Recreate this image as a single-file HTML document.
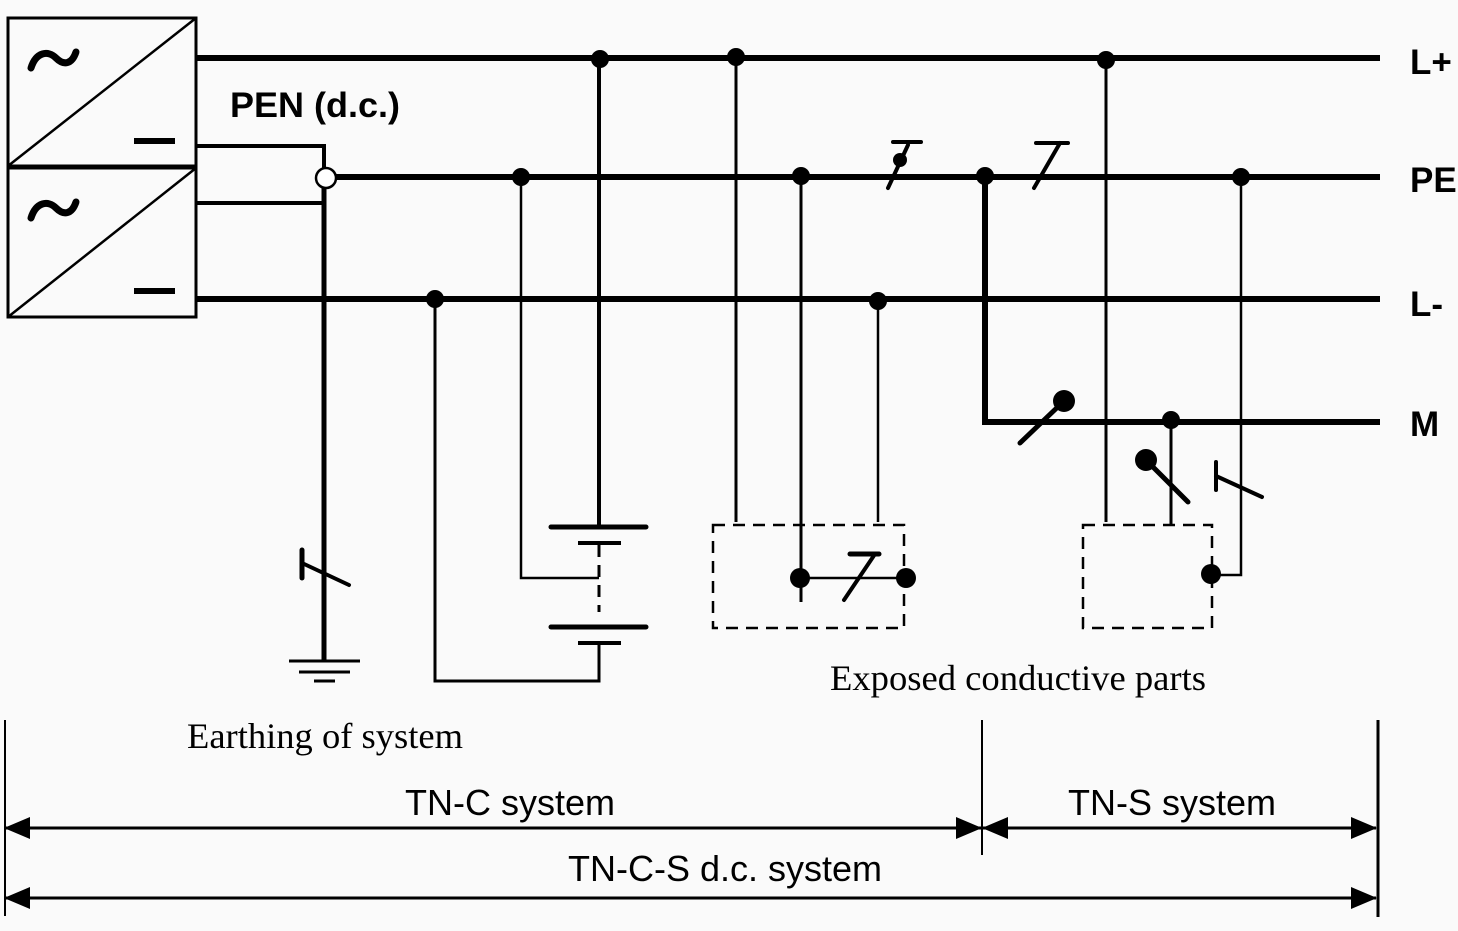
<!DOCTYPE html>
<html><head><style>html,body{margin:0;padding:0;background:#fafafa}svg{display:block}</style></head><body>
<svg width="1458" height="931" viewBox="0 0 1458 931" xmlns="http://www.w3.org/2000/svg">
<defs>
<marker id="a" markerWidth="26" markerHeight="22" refX="25" refY="11" orient="auto-start-reverse" markerUnits="userSpaceOnUse"><path d="M0,0 L26,11 L0,22 Z" fill="#000"/></marker>
</defs>
<g fill="none" stroke="#000">
<rect x="8" y="18" width="188" height="148" stroke-width="3"/>
<rect x="8" y="168" width="188" height="149" stroke-width="3"/>
<line x1="8" y1="166" x2="196" y2="18" stroke-width="2.5"/>
<line x1="8" y1="317" x2="196" y2="168" stroke-width="2.5"/>
<line x1="134" y1="141" x2="175" y2="141" stroke-width="6"/>
<line x1="134" y1="291" x2="175" y2="291" stroke-width="6"/>
<path d="M31,68 C36,52 48,50 56,58 C64,66 72,64 76,52" stroke-width="7" stroke-linecap="round"/>
<path d="M31,218 C36,202 48,200 56,208 C64,216 72,214 76,202" stroke-width="7" stroke-linecap="round"/>
<line x1="196" y1="58" x2="1380" y2="58" stroke-width="6"/>
<line x1="336" y1="177" x2="1380" y2="177" stroke-width="6"/>
<line x1="196" y1="299" x2="1380" y2="299" stroke-width="6"/>
<polyline points="985,177 985,422 1380,422" stroke-width="6"/>
<polyline points="196,146 324,146 324,168" stroke-width="4"/>
<line x1="196" y1="203" x2="324" y2="203" stroke-width="4"/>
<line x1="324" y1="188" x2="324" y2="661" stroke-width="5"/>
<line x1="302" y1="550" x2="302" y2="578" stroke-width="5" stroke-linecap="round"/>
<line x1="302" y1="563" x2="349" y2="585" stroke-width="4" stroke-linecap="round"/>
<line x1="289" y1="661" x2="360" y2="661" stroke-width="3"/>
<line x1="299" y1="672" x2="350" y2="672" stroke-width="3"/>
<line x1="314" y1="681" x2="335" y2="681" stroke-width="3"/>
<line x1="599" y1="58" x2="599" y2="527" stroke-width="4"/>
<line x1="551" y1="527" x2="646" y2="527" stroke-width="5" stroke-linecap="round"/>
<line x1="578" y1="543" x2="621" y2="543" stroke-width="4"/>
<line x1="599" y1="545" x2="599" y2="612" stroke-width="3" stroke-dasharray="12,8"/>
<line x1="551" y1="627" x2="646" y2="627" stroke-width="5" stroke-linecap="round"/>
<line x1="578" y1="643" x2="621" y2="643" stroke-width="4"/>
<polyline points="599,643 599,681 435,681 435,299" stroke-width="3"/>
<polyline points="521,177 521,578 599,578" stroke-width="2.5"/>
<line x1="736" y1="58" x2="736" y2="522" stroke-width="3"/>
<line x1="801" y1="177" x2="801" y2="602" stroke-width="3"/>
<line x1="878" y1="299" x2="878" y2="522" stroke-width="2.5"/>
<rect x="713" y="525" width="191" height="103" stroke-width="2.5" stroke-dasharray="12,8"/>
<line x1="800" y1="578" x2="906" y2="578" stroke-width="2.5"/>
<line x1="850" y1="554" x2="879" y2="554" stroke-width="5" stroke-linecap="round"/>
<line x1="875" y1="554" x2="844" y2="600" stroke-width="4" stroke-linecap="round"/>
<line x1="893" y1="142" x2="921" y2="142" stroke-width="4" stroke-linecap="round"/>
<line x1="908" y1="145" x2="888" y2="188" stroke-width="4" stroke-linecap="round"/>
<line x1="1036" y1="143" x2="1068" y2="143" stroke-width="4" stroke-linecap="round"/>
<line x1="1060" y1="143" x2="1034" y2="188" stroke-width="4" stroke-linecap="round"/>
<line x1="1106" y1="58" x2="1106" y2="522" stroke-width="3"/>
<polyline points="1241,177 1241,575 1211,575" stroke-width="2.5"/>
<line x1="1171" y1="420" x2="1171" y2="525" stroke-width="3"/>
<rect x="1083" y="525" width="129" height="103" stroke-width="2.5" stroke-dasharray="12,8"/>
<line x1="1064" y1="401" x2="1020" y2="443" stroke-width="5" stroke-linecap="round"/>
<line x1="1146" y1="460" x2="1188" y2="502" stroke-width="5" stroke-linecap="round"/>
<line x1="1216" y1="462" x2="1216" y2="490" stroke-width="4" stroke-linecap="round"/>
<line x1="1216" y1="476" x2="1262" y2="497" stroke-width="4" stroke-linecap="round"/>
<line x1="5" y1="720" x2="5" y2="916" stroke-width="2"/>
<line x1="982" y1="720" x2="982" y2="855" stroke-width="2"/>
<line x1="1378" y1="720" x2="1378" y2="917" stroke-width="3"/>
<line x1="5" y1="828" x2="981" y2="828" stroke-width="3" marker-start="url(#a)" marker-end="url(#a)"/>
<line x1="983" y1="828" x2="1376" y2="828" stroke-width="3" marker-start="url(#a)" marker-end="url(#a)"/>
<line x1="5" y1="898" x2="1376" y2="898" stroke-width="3" marker-start="url(#a)" marker-end="url(#a)"/>
</g>
<circle cx="326" cy="178" r="10" fill="#fff" stroke="#000" stroke-width="2.5"/>
<g fill="#000">
<circle cx="600" cy="59" r="9"/><circle cx="736" cy="57" r="9"/><circle cx="1106" cy="60" r="9"/>
<circle cx="521" cy="177" r="9"/><circle cx="801" cy="176" r="9"/><circle cx="985" cy="176" r="9"/><circle cx="1241" cy="177" r="9"/>
<circle cx="900" cy="160" r="7"/>
<circle cx="435" cy="299" r="9"/><circle cx="878" cy="301" r="9"/>
<circle cx="1171" cy="420" r="9"/>
<circle cx="1064" cy="401" r="11"/><circle cx="1146" cy="460" r="11"/>
<circle cx="800" cy="578" r="10"/><circle cx="906" cy="578" r="10"/><circle cx="1211" cy="574" r="10"/>
</g>
<g font-family="Liberation Sans, sans-serif" font-weight="bold" font-size="35">
<text x="230" y="117" textLength="170" lengthAdjust="spacingAndGlyphs">PEN (d.c.)</text>
<text x="1410" y="74">L+</text>
<text x="1410" y="192">PE</text>
<text x="1410" y="316">L-</text>
<text x="1410" y="436">M</text>
</g>
<g font-family="Liberation Serif, serif" font-size="36">
<text x="830" y="690" textLength="376" lengthAdjust="spacingAndGlyphs">Exposed conductive parts</text>
<text x="187" y="748" textLength="276" lengthAdjust="spacingAndGlyphs">Earthing of system</text>
</g>
<g font-family="Liberation Sans, sans-serif" font-size="36" text-anchor="middle">
<text x="510" y="815">TN-C system</text>
<text x="1172" y="815">TN-S system</text>
<text x="725" y="881">TN-C-S d.c. system</text>
</g>
</svg>
</body></html>
